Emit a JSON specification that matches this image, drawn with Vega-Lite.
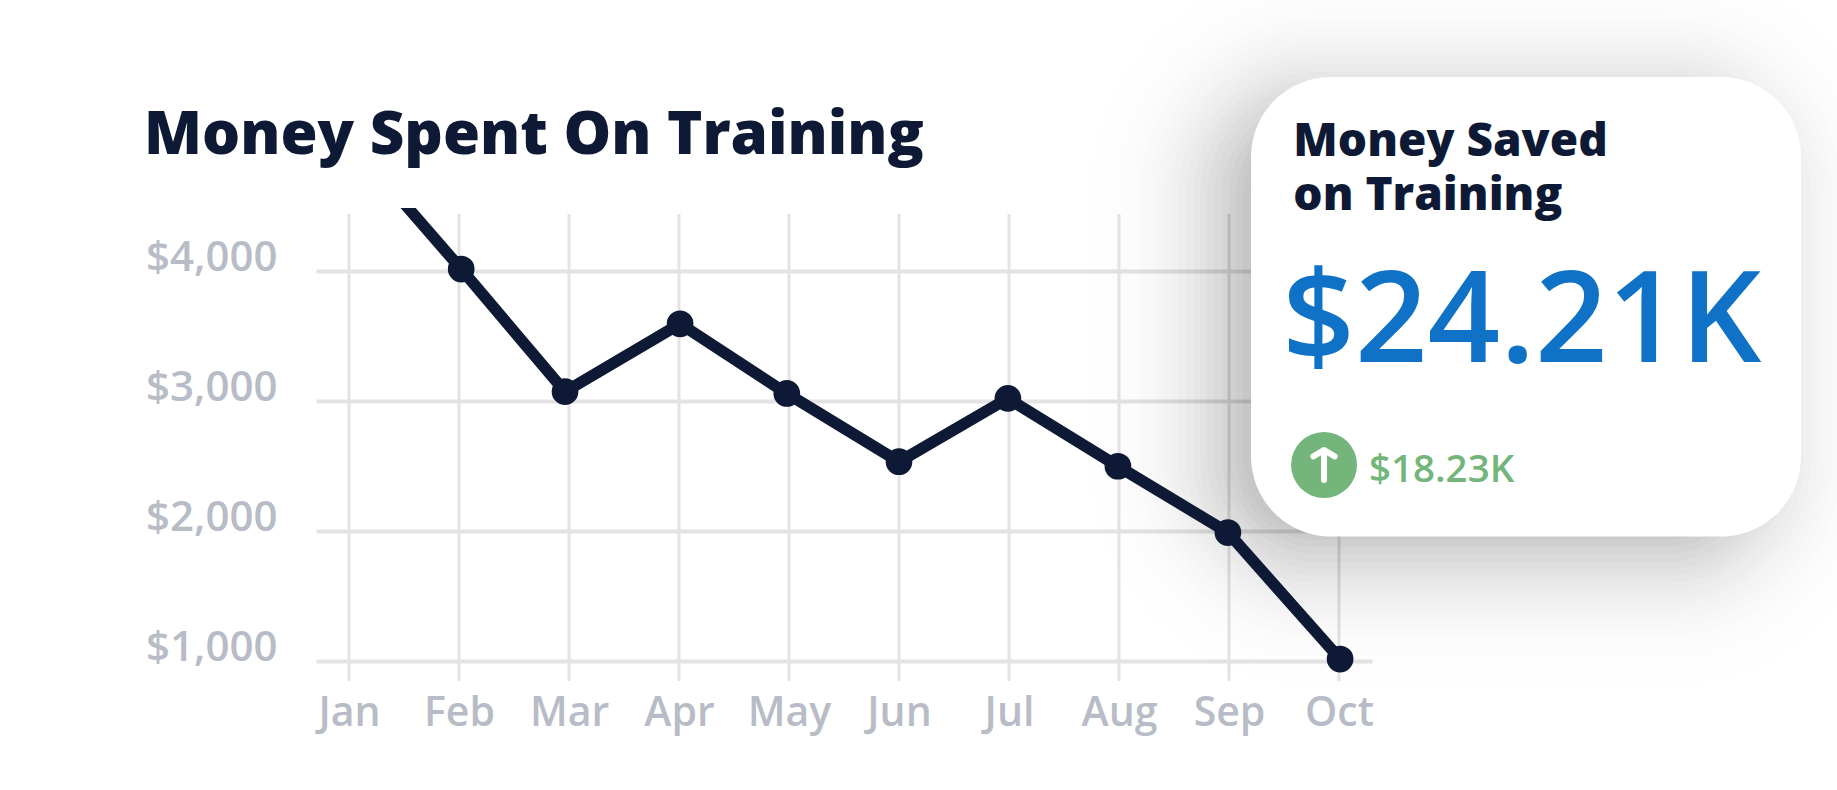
{"$schema":"https://vega.github.io/schema/vega-lite/v6.json","width":1056,"height":473,"autosize":"none","padding":{"left":316,"top":208,"right":465,"bottom":109},"background":"#ffffff",
"title":{"text":"Money Spent On Training","anchor":"start","frame":"group","dx":-172,"offset":0,"dy":245,"baseline":"alphabetic","font":"Open Sans","fontSize":60,"fontWeight":800,"color":"#0e1a35"},
"config":{"view":{"stroke":null}},
"datasets":{"months":[{"tick":0,"m":0,"month":"Jan","spent":5008},{"tick":1,"m":1.02,"month":"Feb","spent":4015},{"tick":2,"m":1.964,"month":"Mar","spent":3072},{"tick":3,"m":3.01,"month":"Apr","spent":3594},{"tick":4,"m":3.98,"month":"May","spent":3058},{"tick":5,"m":5,"month":"Jun","spent":2533},{"tick":6,"m":5.99,"month":"Jul","spent":3020},{"tick":7,"m":6.99,"month":"Aug","spent":2498},{"tick":8,"m":7.99,"month":"Sep","spent":1988},{"tick":9,"m":9.01,"month":"Oct","spent":1015}]},
"data":{"name":"months"},
"layer":[
{"mark":{"type":"rule","color":"#e3e3e3","strokeWidth":3},"encoding":{"x":{"field":"tick","type":"quantitative","title":null,"scale":{"domain":[-0.3,9.3],"nice":false,"zero":false},"axis":{"values":[0,1,2,3,4,5,6,7,8,9],"labelExpr":"['Jan','Feb','Mar','Apr','May','Jun','Jul','Aug','Sep','Oct'][datum.value]","grid":false,"ticks":false,"domain":false,"labelFont":"Open Sans","labelFontSize":41,"labelFontWeight":600,"labelColor":"#b8bcc6","labelPadding":44,"labelBaseline":"alphabetic","labelFlush":false,"labelOverlap":false,"title":null}},"y":{"datum":846.15,"type":"quantitative","title":null,"scale":{"domain":[846.15,4484.6],"nice":false,"zero":false},"axis":{"values":[1000,2000,3000,4000],"format":"$,d","grid":true,"gridColor":"#e3e3e3","gridWidth":4,"ticks":false,"domain":false,"labelFont":"Open Sans","labelFontSize":42,"labelFontWeight":600,"labelColor":"#b8bcc6","labelPadding":39,"labelBaseline":"alphabetic","labelOffset":0,"title":null}},"y2":{"datum":4438}}},
{"data":{"values":[{"shadow":1}]},"layer":[
{"mark":{"type":"rect","color":"#000000","opacity":0.0041,"cornerRadius":226},"encoding":{"x":{"datum":6.736,"type":"quantitative"},"x2":{"datum":14.027},"y":{"datum":6323,"type":"quantitative"},"y2":{"datum":808}}},
{"mark":{"type":"rect","color":"#000000","opacity":0.0042,"cornerRadius":210},"encoding":{"x":{"datum":6.882,"type":"quantitative"},"x2":{"datum":13.882},"y":{"datum":6200,"type":"quantitative"},"y2":{"datum":931}}},
{"mark":{"type":"rect","color":"#000000","opacity":0.0048,"cornerRadius":195},"encoding":{"x":{"datum":7.018,"type":"quantitative"},"x2":{"datum":13.745},"y":{"datum":6085,"type":"quantitative"},"y2":{"datum":1046}}},
{"mark":{"type":"rect","color":"#000000","opacity":0.0052,"cornerRadius":186},"encoding":{"x":{"datum":7.1,"type":"quantitative"},"x2":{"datum":13.664},"y":{"datum":6015,"type":"quantitative"},"y2":{"datum":1115}}},
{"mark":{"type":"rect","color":"#000000","opacity":0.0068,"cornerRadius":176},"encoding":{"x":{"datum":7.191,"type":"quantitative"},"x2":{"datum":13.573},"y":{"datum":5938,"type":"quantitative"},"y2":{"datum":1192}}},
{"mark":{"type":"rect","color":"#000000","opacity":0.0087,"cornerRadius":166},"encoding":{"x":{"datum":7.282,"type":"quantitative"},"x2":{"datum":13.482},"y":{"datum":5862,"type":"quantitative"},"y2":{"datum":1269}}},
{"mark":{"type":"rect","color":"#000000","opacity":0.0077,"cornerRadius":159},"encoding":{"x":{"datum":7.345,"type":"quantitative"},"x2":{"datum":13.418},"y":{"datum":5808,"type":"quantitative"},"y2":{"datum":1323}}},
{"mark":{"type":"rect","color":"#000000","opacity":0.009,"cornerRadius":152},"encoding":{"x":{"datum":7.409,"type":"quantitative"},"x2":{"datum":13.355},"y":{"datum":5754,"type":"quantitative"},"y2":{"datum":1377}}},
{"mark":{"type":"rect","color":"#000000","opacity":0.0103,"cornerRadius":145},"encoding":{"x":{"datum":7.473,"type":"quantitative"},"x2":{"datum":13.291},"y":{"datum":5700,"type":"quantitative"},"y2":{"datum":1431}}},
{"mark":{"type":"rect","color":"#000000","opacity":0.0117,"cornerRadius":138},"encoding":{"x":{"datum":7.536,"type":"quantitative"},"x2":{"datum":13.227},"y":{"datum":5646,"type":"quantitative"},"y2":{"datum":1485}}},
{"mark":{"type":"rect","color":"#000000","opacity":0.013,"cornerRadius":130},"encoding":{"x":{"datum":7.609,"type":"quantitative"},"x2":{"datum":13.155},"y":{"datum":5585,"type":"quantitative"},"y2":{"datum":1546}}},
{"mark":{"type":"rect","color":"#000000","opacity":0.0142,"cornerRadius":123},"encoding":{"x":{"datum":7.673,"type":"quantitative"},"x2":{"datum":13.091},"y":{"datum":5531,"type":"quantitative"},"y2":{"datum":1600}}},
{"mark":{"type":"rect","color":"#000000","opacity":0.0154,"cornerRadius":116},"encoding":{"x":{"datum":7.736,"type":"quantitative"},"x2":{"datum":13.027},"y":{"datum":5477,"type":"quantitative"},"y2":{"datum":1654}}},
{"mark":{"type":"rect","color":"#000000","opacity":0.0164,"cornerRadius":109},"encoding":{"x":{"datum":7.8,"type":"quantitative"},"x2":{"datum":12.964},"y":{"datum":5423,"type":"quantitative"},"y2":{"datum":1708}}},
{"mark":{"type":"rect","color":"#000000","opacity":0.0173,"cornerRadius":102},"encoding":{"x":{"datum":7.864,"type":"quantitative"},"x2":{"datum":12.9},"y":{"datum":5369,"type":"quantitative"},"y2":{"datum":1762}}},
{"mark":{"type":"rect","color":"#000000","opacity":0.0179,"cornerRadius":94},"encoding":{"x":{"datum":7.936,"type":"quantitative"},"x2":{"datum":12.827},"y":{"datum":5308,"type":"quantitative"},"y2":{"datum":1823}}},
{"mark":{"type":"rect","color":"#000000","opacity":0.0183,"cornerRadius":87},"encoding":{"x":{"datum":8,"type":"quantitative"},"x2":{"datum":12.764},"y":{"datum":5254,"type":"quantitative"},"y2":{"datum":1877}}},
{"mark":{"type":"rect","color":"#000000","opacity":0.0185,"cornerRadius":80},"encoding":{"x":{"datum":8.064,"type":"quantitative"},"x2":{"datum":12.7},"y":{"datum":5200,"type":"quantitative"},"y2":{"datum":1931}}},
{"mark":{"type":"rect","color":"#000000","opacity":0.0183,"cornerRadius":73},"encoding":{"x":{"datum":8.127,"type":"quantitative"},"x2":{"datum":12.636},"y":{"datum":5146,"type":"quantitative"},"y2":{"datum":1985}}},
{"mark":{"type":"rect","color":"#000000","opacity":0.0179,"cornerRadius":66},"encoding":{"x":{"datum":8.191,"type":"quantitative"},"x2":{"datum":12.573},"y":{"datum":5092,"type":"quantitative"},"y2":{"datum":2038}}}
]},
{"mark":{"type":"line","color":"#0e1a35","strokeWidth":11.5,"clip":true,"strokeJoin":"miter"},"encoding":{"x":{"field":"m","type":"quantitative"},"y":{"field":"spent","type":"quantitative"}}},
{"transform":[{"filter":"datum.month !== 'Jan'"}],"mark":{"type":"circle","color":"#0e1a35","size":713,"opacity":1},"encoding":{"x":{"field":"m","type":"quantitative"},"y":{"field":"spent","type":"quantitative"}}},
{"data":{"values":[{"card":"Money Saved on Training"}]},"mark":{"type":"rect","color":"#ffffff","cornerRadius":80},"encoding":{"x":{"datum":8.2,"type":"quantitative"},"x2":{"datum":13.2},"y":{"datum":5492,"type":"quantitative"},"y2":{"datum":1958}}},
{"data":{"values":[{"label":"Money Saved"}]},"mark":{"type":"text","align":"left","baseline":"alphabetic","font":"Open Sans","fontWeight":800,"fontSize":46,"color":"#0e1a35"},"encoding":{"text":{"field":"label"},"x":{"datum":8.585,"type":"quantitative"},"y":{"datum":4885,"type":"quantitative"}}},
{"data":{"values":[{"label":"on Training"}]},"mark":{"type":"text","align":"left","baseline":"alphabetic","font":"Open Sans","fontWeight":800,"fontSize":46,"color":"#0e1a35"},"encoding":{"text":{"field":"label"},"x":{"datum":8.585,"type":"quantitative"},"y":{"datum":4470,"type":"quantitative"}}},
{"data":{"values":[{"label":"$24.21K"}]},"mark":{"type":"text","align":"left","baseline":"alphabetic","font":"Open Sans","fontWeight":600,"fontSize":127,"color":"#0f72c7"},"encoding":{"text":{"field":"label"},"x":{"datum":8.485,"type":"quantitative"},"y":{"datum":3302,"type":"quantitative"}}},
{"data":{"values":[{"delta":"$18.23K"}]},"mark":{"type":"circle","color":"#73b57a","size":4356,"opacity":1},"encoding":{"x":{"datum":8.864,"type":"quantitative"},"y":{"datum":2508,"type":"quantitative"}}},
{"data":{"values":[{"delta":"$18.23K"}]},"mark":{"type":"point","shape":"M0,1 L0,-1 M-0.71,-0.57 L0,-1 L0.71,-0.57","filled":false,"stroke":"#ffffff","strokeWidth":6,"strokeCap":"round","strokeJoin":"round","size":900,"opacity":1},"encoding":{"x":{"datum":8.864,"type":"quantitative"},"y":{"datum":2508,"type":"quantitative"}}},
{"data":{"values":[{"delta":"$18.23K"}]},"mark":{"type":"text","align":"left","baseline":"alphabetic","font":"Open Sans","fontWeight":600,"fontSize":38.5,"color":"#73b57a"},"encoding":{"text":{"field":"delta"},"x":{"datum":9.273,"type":"quantitative"},"y":{"datum":2377,"type":"quantitative"}}}
]}
